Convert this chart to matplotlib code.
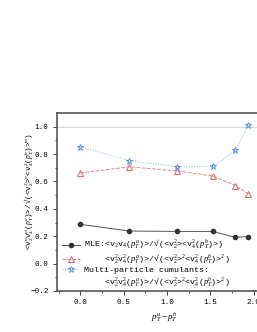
import numpy as np
import matplotlib.pyplot as plt
from matplotlib.lines import Line2D

plt.rcParams['font.family'] = ['Liberation Mono', 'DejaVu Sans']
plt.rcParams['mathtext.fontset'] = 'custom'
plt.rcParams['mathtext.rm'] = 'Liberation Serif'
plt.rcParams['mathtext.it'] = 'Liberation Serif:italic'

# data
dpt = [0.0, 0.565, 1.12, 1.53, 1.79, 1.94]
mle = [0.287, 0.238, 0.235, 0.235, 0.192, 0.198]
ratio_red = [0.663, 0.707, 0.677, 0.640, 0.570, 0.510]
cumulants = [0.853, 0.753, 0.707, 0.710, 0.827, 1.014]

lab_mle = r"MLE:<v$_2$v$_4$($p_T^a$)>/√(<v$_2^2$><v$_4^2$($p_T^b$)>)"
lab_red = r"    <v$_2^2$v$_4^2$($p_T^a$)>/√(<v$_2^2$>$^2$<v$_4^2$($p_T^b$)>$^2$)"
lab_cum = "Multi-particle cumulants:"
lab_cum2 = r"    <v$_2^2$v$_4^2$($p_T^a$)>/√(<v$_2^2$>$^2$<v$_4^2$($p_T^b$)>$^2$)"

fig = plt.figure(figsize=(2.57, 3.32), dpi=100)
ax = fig.add_axes([0.222, 0.1235, 0.832, 0.536])

ax.axhline(1.0, color="#d8d8d8", lw=0.8, zorder=0)
l1, = ax.plot(dpt, mle, color="#555555", lw=0.7, marker="o", ms=3,
              mfc="#333333", mec="#333333")
l2, = ax.plot(dpt, ratio_red, color="#f08080", lw=0.7, ls="--", marker="^", ms=4,
              mfc="none", mec="#f06060", mew=0.7)
l3, = ax.plot(dpt, cumulants, color="#88b4f0", lw=0.7, ls=":", marker="*", ms=4.5,
              mfc="none", mec="#5a94e8", mew=0.7)
blank = Line2D([], [], color="none")

ax.set_xlim(-0.27, 2.2)
ax.set_ylim(-0.2, 1.1)
ax.set_xticks([0.0, 0.5, 1.0, 1.5, 2.0])
ax.set_yticks([-0.2, 0.0, 0.2, 0.4, 0.6, 0.8, 1.0])
ax.set_xticks(np.arange(-0.25, 2.2, 0.25), minor=True)
ax.set_yticks(np.arange(-0.2, 1.1, 0.1), minor=True)
ax.tick_params(labelsize=5.5, length=3, width=0.7, color="#444444", pad=3)
ax.tick_params(which="minor", length=1.5, width=0.5)

for s in ax.spines.values():
    s.set_color("#555555")
    s.set_linewidth(1.2)

ax.set_xlabel(r"$p_T^a - p_T^b$", fontsize=6.5, labelpad=3)
ax.set_ylabel(r"<v$_2^n$v$_4^m$($p_T^a$)>/√(<v$_2^2$>$^n$<v$_4^2$($p_T^b$)>$^m$)",
              fontsize=5.5)
ax.yaxis.set_label_coords(-0.1, 0.56)

ax.legend([l1, l2, l3, blank], [lab_mle, lab_red, lab_cum, lab_cum2],
          loc="lower left", bbox_to_anchor=(0.0, -0.015), frameon=False,
          fontsize=6, handlelength=2.2, handletextpad=0.4, labelspacing=0.1,
          borderaxespad=0.2)

plt.savefig("out.png", dpi=100)
